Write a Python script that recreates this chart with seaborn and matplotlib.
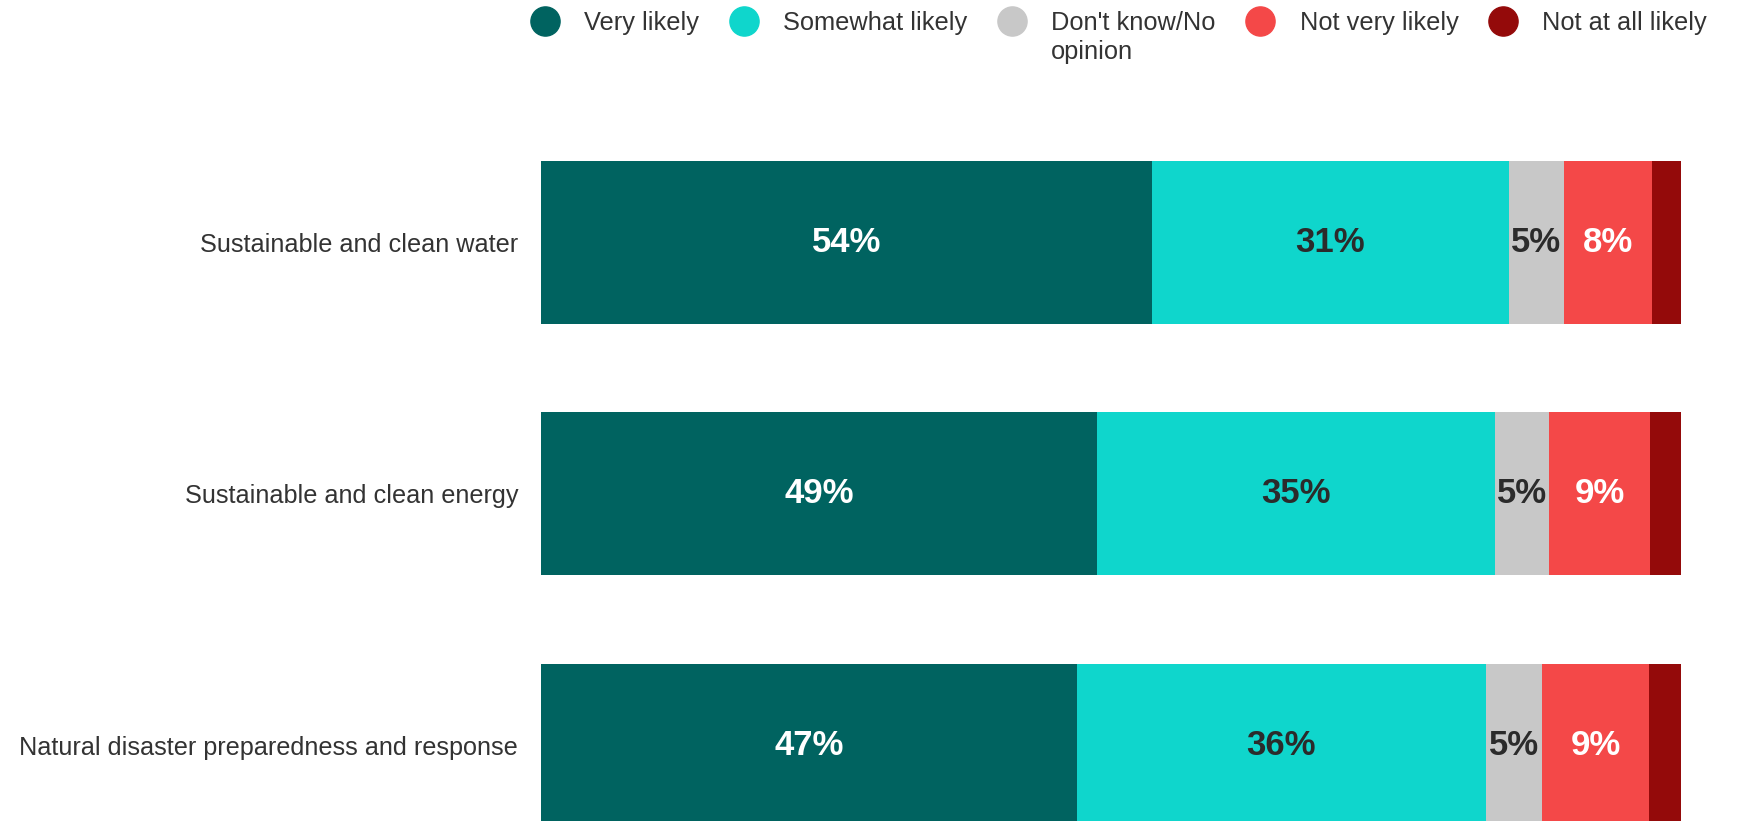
import numpy as np
import pandas as pd
import matplotlib.pyplot as plt
from matplotlib.lines import Line2D
import seaborn as sns

# data (share of respondents, %)
topics = [
    "Sustainable and clean water",
    "Sustainable and clean energy",
    "Natural disaster preparedness and response",
]
responses = ["Very likely", "Somewhat likely", "Don't know/No opinion",
             "Not very likely", "Not at all likely"]
legend_labels = ["Very likely", "Somewhat likely", "Don't know/No",
                 "Not very likely", "Not at all likely"]
very_likely = [53.6, 48.8, 47.0]
somewhat_likely = [31.3, 34.9, 35.9]
dont_know = [4.8, 4.7, 4.9]
not_very_likely = [7.8, 8.9, 9.4]
not_at_all_likely = [2.5, 2.7, 2.8]
shown_labels = [
    ["54%", "31%", "5%", "8%", ""],
    ["49%", "35%", "5%", "9%", ""],
    ["47%", "36%", "5%", "9%", ""],
]

colors = ["#006360", "#0FD6CC", "#C8C8C8", "#F44848", "#940A0A"]
text_colors = ["white", "#2b2b2b", "#2b2b2b", "white", "white"]

sns.set_theme(style="white")
plt.rcParams["font.family"] = ["Liberation Sans", "DejaVu Sans"]

df = pd.DataFrame(
    np.array([very_likely, somewhat_likely, dont_know,
              not_very_likely, not_at_all_likely]).T,
    columns=responses,
)
df["topic"] = topics
cum = df[responses].cumsum(axis=1)
cum["topic"] = topics

fig = plt.figure(figsize=(17.39, 8.21), dpi=100)
ax = fig.add_axes([0.3111, 0.0, 0.6555, 0.866])

# stacked bars: draw the cumulative totals from the widest down
for resp, col in reversed(list(zip(responses, colors))):
    sns.barplot(data=cum, x=resp, y="topic", orient="h", color=col,
                width=0.648, saturation=1, ax=ax, linewidth=0)

# segment labels
for i, topic in enumerate(topics):
    left = 0
    for j, resp in enumerate(responses):
        w = df.loc[i, resp]
        lab = shown_labels[i][j]
        if lab:
            ax.text(left + w / 2, i, lab, ha="center", va="center",
                    fontsize=25, fontweight="bold", color=text_colors[j])
        left += w

ax.set_xlim(0, 100)
ax.set_ylim(2.30, -0.526)
ax.set_xlabel("")
ax.set_ylabel("")
ax.set_xticks([])
ax.tick_params(axis="y", length=0, pad=16.5, labelsize=18.2, labelcolor="#333333")
sns.despine(ax=ax, left=True, bottom=True)

handles = [Line2D([], [], marker="o", linestyle="", markersize=21,
                  markerfacecolor=c, markeredgecolor=c) for c in colors]
leg = fig.legend(handles, legend_labels, loc="center right",
                 bbox_to_anchor=(0.9816, 0.972), ncol=5, frameon=False,
                 fontsize=18.3, labelcolor="#333333", handletextpad=0.55,
                 columnspacing=0.75, borderaxespad=0, borderpad=0)

# second line of the "Don't know/No opinion" entry sits under its first line
fig.canvas.draw()
bb = leg.get_texts()[2].get_window_extent()
fig.text(bb.x0, bb.y0 - 5, "opinion", transform=None, ha="left", va="top",
         fontsize=18.3, color="#333333")

fig.savefig("out.png", dpi=100, facecolor="white")
